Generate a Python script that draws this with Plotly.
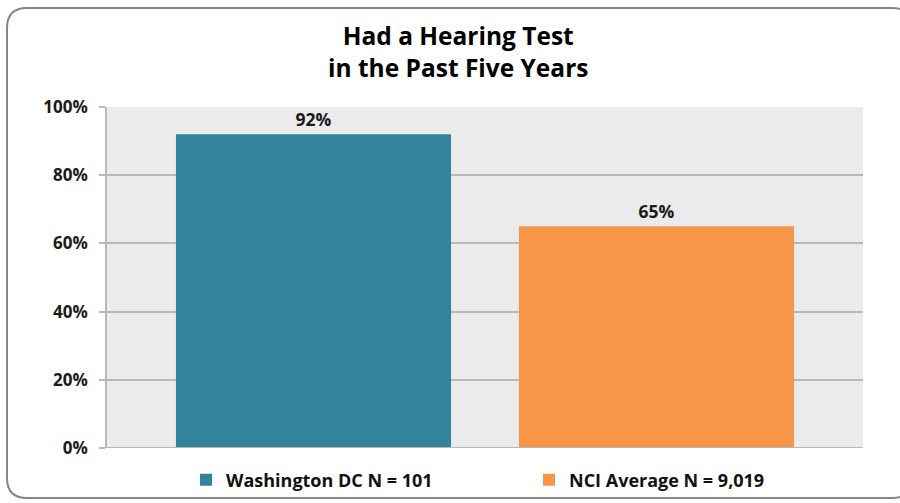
import plotly.graph_objects as go

# Survey result: share of respondents who had a hearing test in the past five years
category = ["Had a Hearing Test"]
series_names = ["Washington DC N = 101", "NCI Average N = 9,019"]
series_values = [92, 65]
series_colors = ["#31849B", "#F79646"]
tick_values = [0, 20, 40, 60, 80, 100]
tick_labels = ["0%", "20%", "40%", "60%", "80%", "100%"]
title_text = "Had a Hearing Test<br>in the Past Five Years"

FONT = "'Open Sans', Lato, sans-serif"

fig = go.Figure()
for name, val, col in zip(series_names, series_values, series_colors):
    fig.add_trace(go.Bar(
        x=category, y=[val], name=name,
        marker=dict(color=col, line=dict(width=0)),
        text=[f"{val}%"], textposition="outside", cliponaxis=False,
        textfont=dict(family=FONT, size=17.5, color="#1a1a1a", weight="bold"),
        hoverinfo="skip",
    ))

L, R, T, B = 107, 37, 107, 55
W, H = 900, 503
pw, ph = W - L - R, H - T - B

def px_x(p):
    return (p - L) / pw

def px_y(p):
    return (H - B - p) / ph

# rounded outer frame, drawn in paper coordinates (right side runs past the page edge)
x0, x1 = px_x(7), px_x(912)
y0, y1 = px_y(498), px_y(8)
rx, ry = 20 / pw, 20 / ph
frame = (f"M {x0+rx},{y1} L {x1-rx},{y1} Q {x1},{y1} {x1},{y1-ry} "
         f"L {x1},{y0+ry} Q {x1},{y0} {x1-rx},{y0} "
         f"L {x0+rx},{y0} Q {x0},{y0} {x0},{y0+ry} "
         f"L {x0},{y1-ry} Q {x0},{y1} {x0+rx},{y1} Z")

fig.update_layout(
    width=W, height=H,
    margin=dict(l=L, r=R, t=T, b=B, autoexpand=False),
    paper_bgcolor="white",
    plot_bgcolor="#EBEBEB",
    barmode="group",
    bargap=0.0926,
    bargroupgap=0.198,
    showlegend=True,
    legend=dict(
        orientation="h", x=px_x(186), xanchor="left",
        y=px_y(480), yanchor="middle",
        font=dict(family=FONT, size=18, color="#111111", weight="bold"),
        entrywidth=298, itemwidth=30,
        bgcolor="rgba(0,0,0,0)",
    ),
    xaxis=dict(showticklabels=False, showgrid=False, zeroline=False,
               showline=False, ticks=""),
    yaxis=dict(
        range=[0, 100], tickvals=tick_values, ticktext=tick_labels,
        showgrid=True, gridcolor="#B8B8B8", gridwidth=1.5,
        zeroline=False,
        showline=True, linecolor="#B8B8B8", linewidth=1.5,
        ticks="outside", ticklen=6, tickcolor="#B8B8B8", tickwidth=1.5,
        ticklabelstandoff=8,
        tickfont=dict(family=FONT, size=17, color="#1a1a1a", weight="bold"),
    ),
    annotations=[
        dict(text=f"<b>{title_text}</b>", xref="paper", yref="paper",
             x=px_x(458), y=px_y(52), xanchor="center", yanchor="middle",
             showarrow=False,
             font=dict(family=FONT, size=24.5, color="#000000")),
    ],
    shapes=[
        dict(type="path", xref="paper", yref="paper", path=frame,
             line=dict(color="#868686", width=2), fillcolor="rgba(0,0,0,0)",
             layer="below"),
        dict(type="line", xref="paper", yref="y", x0=0, x1=1, y0=0, y1=0,
             line=dict(color="#B8B8B8", width=2), layer="above"),
    ],
)

fig.write_html("out.html")
